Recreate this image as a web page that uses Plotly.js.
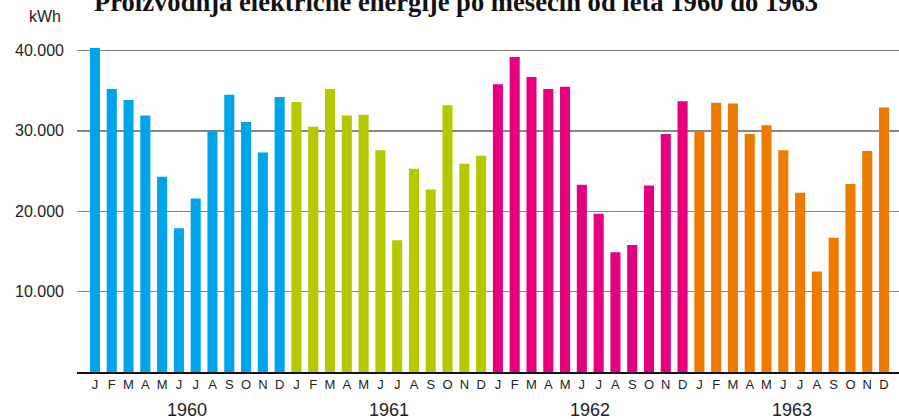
<!DOCTYPE html>
<html>
<head>
<meta charset="utf-8">
<script src="https://cdn.plot.ly/plotly-3.0.1.min.js"></script>
<style>html,body{margin:0;padding:0;background:#fff;}#chart{width:899px;height:419px;}</style>
</head>
<body>
<div id="chart"></div>
<script>
// ---- data ----
const titleText = "Proizvodnja električne energije po mesecih od leta 1960 do 1963";
const unitLabel = "kWh";
const months = ["J","F","M","A","M","J","J","A","S","O","N","D"];
const years = ["1960","1961","1962","1963"];
const values1960 = [40300, 35200, 33850, 31900, 24300, 17900, 21600, 30000, 34500, 31100, 27300, 34200];
const values1961 = [33600, 30500, 35200, 31900, 32000, 27600, 16400, 25300, 22700, 33200, 25900, 26900];
const values1962 = [35800, 39200, 36700, 35200, 35500, 23300, 19700, 14900, 15800, 23200, 29600, 33700];
const values1963 = [29900, 33500, 33400, 29600, 30700, 27600, 22300, 12500, 16700, 23400, 27500, 32900];
const yTickVals = [10000, 20000, 30000, 40000];
const yTickText = ["10.000", "20.000", "30.000", "40.000"];
const yearColors = ["#00a5e9", "#b4c900", "#e5007f", "#ee7b00"];

const seriesValues = [values1960, values1961, values1962, values1963];

const traces = seriesValues.map((vals, k) => ({
  type: "bar",
  x: vals.map((v, i) => i + k * months.length),
  y: vals,
  marker: {color: yearColors[k], line: {width: 0}},
  name: years[k],
  hoverinfo: "y"
}));

const allTickVals = [];
const allTickText = [];
years.forEach((y, k) => months.forEach((m, i) => { allTickVals.push(i + k * months.length); allTickText.push(m); }));

const annotations = years.map((y, k) => ({
  text: y,
  xref: "x", yref: "paper",
  x: k * months.length + (months.length - 1) / 2,
  y: 0, yanchor: "top", yshift: -26,
  showarrow: false,
  font: {family: "Liberation Sans, Arial, sans-serif", size: 18, color: "#222"}
}));
annotations.push({
  text: unitLabel,
  xref: "paper", yref: "paper",
  x: 0, xanchor: "right", xshift: -14,
  y: 1, yanchor: "bottom", yshift: 3,
  showarrow: false,
  font: {family: "Liberation Sans, Arial, sans-serif", size: 16, color: "#222"}
});
annotations.push({
  text: "<b>" + titleText + "</b>",
  xref: "paper", yref: "paper",
  x: 0.461, xanchor: "center",
  y: 1, yanchor: "bottom", yshift: 11,
  showarrow: false,
  font: {family: "Liberation Serif, Times New Roman, serif", size: 26.6, color: "#111"}
});

const shapes = [
  {type: "line", xref: "paper", yref: "y", x0: 0, x1: 1, y0: yTickVals[2], y1: yTickVals[2], layer: "below", line: {color: "#444", width: 1.5}},
  {type: "line", xref: "paper", yref: "y", x0: 0, x1: 1, y0: yTickVals[3], y1: yTickVals[3], layer: "below", line: {color: "#111", width: 1.2}}
];

const layout = {
  width: 899, height: 419,
  margin: {l: 77, r: 0, t: 30, b: 47, pad: 0},
  paper_bgcolor: "#fff", plot_bgcolor: "#fff",
  showlegend: false,
  barmode: "overlay",
  bargap: 0.4,
  xaxis: {
    range: [-1.07, 47.89],
    tickmode: "array", tickvals: allTickVals, ticktext: allTickText,
    showgrid: false, zeroline: false,
    showline: true, linecolor: "#111", linewidth: 1.5,
    ticks: "",
    tickfont: {family: "Liberation Sans, Arial, sans-serif", size: 13, color: "#222"},
    fixedrange: true
  },
  yaxis: {
    range: [0, 42550],
    tickmode: "array", tickvals: yTickVals, ticktext: yTickText,
    showgrid: true, gridcolor: "#888", gridwidth: 1.5,
    zeroline: false, showline: false, ticks: "",
    ticklabelstandoff: 12,
    tickfont: {family: "Liberation Sans, Arial, sans-serif", size: 16, color: "#222"},
    fixedrange: true
  },
  annotations: annotations,
  shapes: shapes
};

Plotly.newPlot("chart", traces, layout, {displayModeBar: false, staticPlot: true});
</script>
</body>
</html>
